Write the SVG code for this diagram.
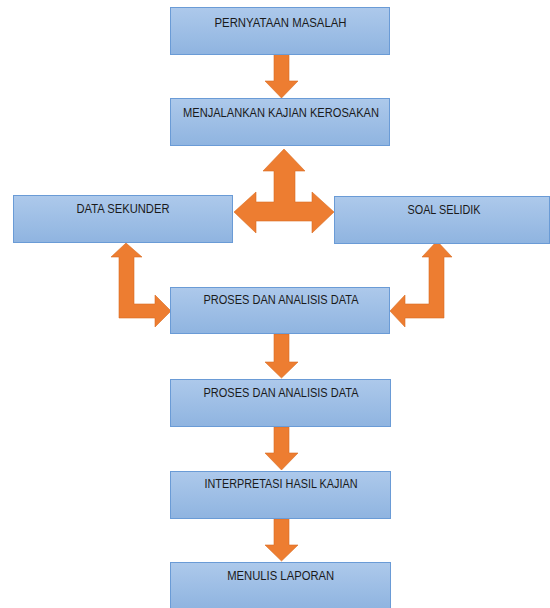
<svg xmlns="http://www.w3.org/2000/svg" width="550" height="608" viewBox="0 0 550 608">
  <defs>
    <linearGradient id="bg" x1="0" y1="0" x2="0" y2="1">
      <stop offset="0" stop-color="#adc9eb"/>
      <stop offset="1" stop-color="#8fb4e0"/>
    </linearGradient>
    <style>
      .box { fill: url(#bg); stroke: #6a9bd6; stroke-width: 1; }
      .lbl { font-family: "Liberation Sans Narrow", "Liberation Sans", Arial, sans-serif; font-size: 12.5px; fill: #1a1a1a; text-anchor: middle; }
      .arr { fill: #ed7d31; stroke: #d96d22; stroke-width: 0.6; }
    </style>
  </defs>
  <rect width="550" height="608" fill="#ffffff"/>
  <g id="connectors">
    <path class="arr" d="M274,54 H289 V81 H298 L281.5,98 L265,81 H274 Z"/>
    <path class="arr" d="M284,149 L305,171 H295 V202 H312 V192 L334,212 L312,233 V221 H256 V233 L234,212 L256,192 V202 H274 V171 H263 Z"/>
    <path class="arr" d="M126,243 L142,257 H134 V304 H155 V295 L171,311 L155,327 V318 H119 V257 H111 Z"/>
    <path class="arr" d="M437,241 L452,257 H444 V318 H405 V327 L390,311 L405,295 V304 H429 V257 H422 Z"/>
    <path class="arr" d="M274,334 H289 V362 H298 L281.5,378 L265,362 H274 Z"/>
    <path class="arr" d="M274,427 H289 V453 H298 L281.5,470 L265,453 H274 Z"/>
    <path class="arr" d="M274,519 H289 V545 H298 L281.5,561 L265,545 H274 Z"/>
  </g>
  <g id="n1">
    <rect class="box" x="170.5" y="7.5" width="219" height="47"/>
    <text class="lbl" x="280.5" y="27.3" textLength="132" lengthAdjust="spacingAndGlyphs">PERNYATAAN MASALAH</text>
  </g>
  <g id="n2">
    <rect class="box" x="170.5" y="98.5" width="219" height="47"/>
    <text class="lbl" x="281" y="117.3" textLength="196" lengthAdjust="spacingAndGlyphs">MENJALANKAN KAJIAN KEROSAKAN</text>
  </g>
  <g id="n3">
    <rect class="box" x="13.5" y="195.5" width="219" height="47"/>
    <text class="lbl" x="123" y="213.3" textLength="93" lengthAdjust="spacingAndGlyphs">DATA SEKUNDER</text>
  </g>
  <g id="n4">
    <rect class="box" x="334.5" y="196.5" width="215" height="47"/>
    <text class="lbl" x="444" y="213.7" textLength="73" lengthAdjust="spacingAndGlyphs">SOAL SELIDIK</text>
  </g>
  <g id="n5">
    <rect class="box" x="170.5" y="287.5" width="219" height="46"/>
    <text class="lbl" x="281" y="304" textLength="155" lengthAdjust="spacingAndGlyphs">PROSES DAN ANALISIS DATA</text>
  </g>
  <g id="n6">
    <rect class="box" x="170.5" y="379.5" width="220" height="47"/>
    <text class="lbl" x="281" y="397" textLength="155" lengthAdjust="spacingAndGlyphs">PROSES DAN ANALISIS DATA</text>
  </g>
  <g id="n7">
    <rect class="box" x="170.5" y="471.5" width="220" height="47"/>
    <text class="lbl" x="281" y="487.7" textLength="153" lengthAdjust="spacingAndGlyphs">INTERPRETASI HASIL KAJIAN</text>
  </g>
  <g id="n8">
    <rect class="box" x="170.5" y="562.5" width="220" height="46"/>
    <text class="lbl" x="280.7" y="579.7" textLength="107" lengthAdjust="spacingAndGlyphs">MENULIS LAPORAN</text>
  </g>
</svg>
